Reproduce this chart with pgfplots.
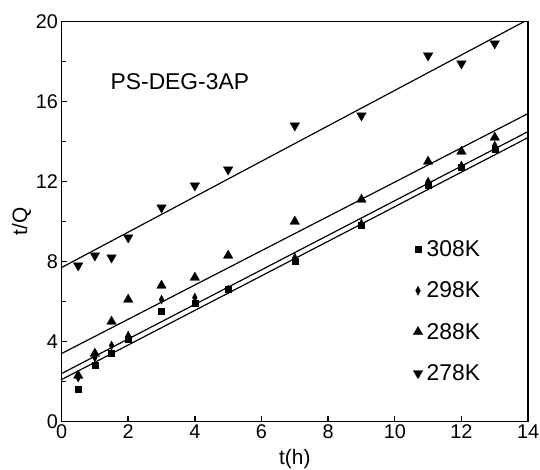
\documentclass[border=0pt]{standalone}
\usepackage{pgfplots}
\pgfplotsset{compat=1.18}
\usepackage{fontspec}
\setmainfont{Liberation Sans}
\begin{document}
\begin{tikzpicture}
\begin{axis}[
  name=ax,
  scale only axis, width=470pt, height=403pt,
  xmin=0, xmax=14, ymin=0, ymax=20,
  xtick={0,2,...,14}, ytick={0,4,...,20},
  minor ytick={2,6,...,18},
  tick pos=left, tick align=inside,
  major tick length=6pt, minor tick length=4pt,
  axis line style={line width=1.7pt},
  every tick/.style={line width=1.4pt, black},
  /pgf/number format/assume math mode=true,
  tick label style={font=\fontsize{20}{22}\selectfont},
  label style={font=\fontsize{21}{23}\selectfont},
  xlabel={t(h)}, ylabel={t/Q},
  xlabel style={yshift=-3pt},
  ylabel style={yshift=-2pt},
  clip=true,
  legend style={draw=none, fill=none, at={(axis cs:10.55,9.05)}, anchor=north west,
    font=\fontsize{23}{25}\selectfont, row sep=24pt, inner sep=0pt,
    nodes={inner xsep=4pt, inner ysep=0pt}},
  legend cell align=left,
  legend image code/.code={\draw[#1] plot coordinates {(0.1cm,0cm)};},
]
\addplot[only marks, mark=square*, mark size=3pt, black] coordinates {
(0.5,1.6)(1,2.8)(1.5,3.4)(2,4.1)(3,5.5)(4,5.9)(5,6.6)(7,8.0)(9,9.8)(11,11.8)(12,12.7)(13,13.6)};
\addlegendentry{308K}
\addplot[only marks, mark=diamond*, mark size=4.5pt, mark options={xscale=0.7}, black] coordinates {
(0.5,2.2)(1,3.2)(1.5,3.8)(2,4.3)(3,6.1)(4,6.2)(5,6.6)(7,8.2)(9,9.9)(11,12.0)(12,12.8)(13,13.8)};
\addlegendentry{298K}
\addplot[only marks, mark=triangle*, mark size=5.5pt, black] coordinates {
(0.5,2.3)(1,3.4)(1.5,5.0)(2,6.1)(3,6.8)(4,7.2)(5,8.3)(7,10.0)(9,11.1)(11,13.0)(12,13.5)(13,14.2)};
\addlegendentry{288K}
\addplot[only marks, mark=triangle*, mark size=5.5pt, mark options={rotate=180}, black] coordinates {
(0.5,7.8)(1,8.3)(1.5,8.2)(2,9.2)(3,10.7)(4,11.8)(5,12.6)(7,14.8)(9,15.3)(11,18.3)(12,17.9)(13,18.9)};
\addlegendentry{278K}
\addplot[black, line width=1.2pt, forget plot] coordinates {(0,2.1)(14,14.2)};
\addplot[black, line width=1.2pt, forget plot] coordinates {(0,2.4)(14,14.5)};
\addplot[black, line width=1.2pt, forget plot] coordinates {(0,3.4)(14,15.4)};
\addplot[black, line width=1.2pt, forget plot] coordinates {(0,7.7)(14,20.1)};
\node[font=\fontsize{23}{25}\selectfont] at (axis cs:3.55,17.0) {PS-DEG-3AP};
\end{axis}
\pgfresetboundingbox
\useasboundingbox ([shift={(-62pt,-48pt)}]ax.south west) rectangle ([shift={(12pt,21.7pt)}]ax.north east);
\end{tikzpicture}
\end{document}
